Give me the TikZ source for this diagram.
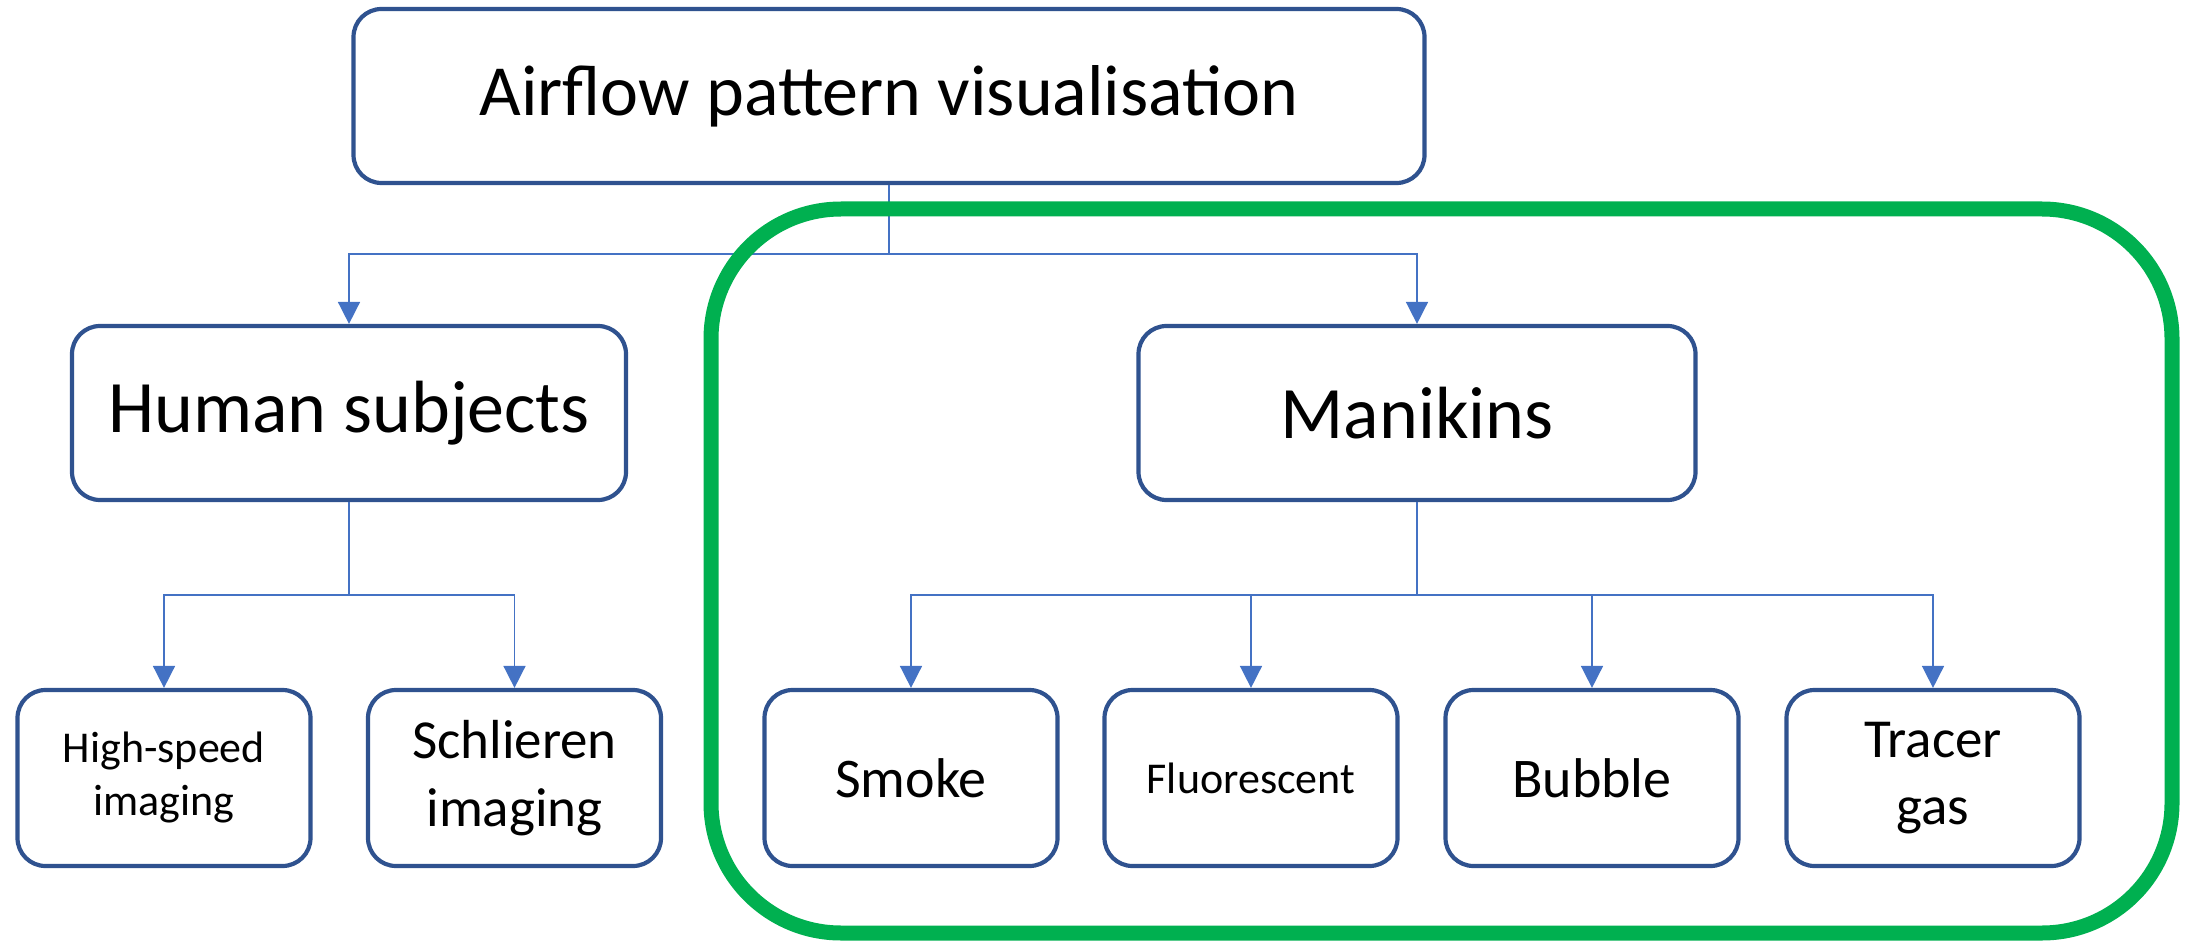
\documentclass[tikz,border=0pt]{standalone}
\usepackage{fontspec}
\setmainfont{Carlito}
\usetikzlibrary{arrows.meta}
\definecolor{boxblue}{HTML}{2F528F}
\definecolor{linkblue}{HTML}{4472C4}
\definecolor{framegreen}{HTML}{00B050}
\tikzset{
  box/.style={draw=boxblue, line width=4.2pt, rounded corners=28pt, fill=white,
    align=center, inner sep=0pt, text=black},
  leaf/.style={box, minimum width=293pt, minimum height=176pt},
  conn/.style={draw=linkblue, line width=1.6pt,
    -{Triangle[length=22pt,width=22pt]}}
}
\begin{document}
\begin{tikzpicture}[x=1pt,y=-1pt]
\useasboundingbox (0,0) rectangle (2185,941);
\coordinate (lvlA) at (0,254);
\coordinate (lvlB) at (0,595);

\node[box, minimum width=1071pt, minimum height=174pt, font=\fontsize{72}{86}\selectfont]
  (top) at (889,96) {Airflow pattern visualisation};
\node[box, minimum width=554pt, minimum height=174pt, font=\fontsize{74}{88}\selectfont]
  (human) at (349,413) {Human subjects};
\node[box, minimum width=557pt, minimum height=174pt, font=\fontsize{74}{88}\selectfont]
  (mani) at (1417,413) {Manikins};

\node[leaf, font=\fontsize{44}{53}\selectfont] (hs) at (164,778) {High-speed\\imaging};
\node[leaf, font=\fontsize{55}{68}\selectfont] (sch) at (514.5,778) {Schlieren\\imaging};
\node[leaf, font=\fontsize{56}{68}\selectfont] (smoke) at (911,778) {Smoke};
\node[leaf, font=\fontsize{44}{53}\selectfont] (fluo) at (1251,778) {Fluorescent};
\node[leaf, font=\fontsize{56}{68}\selectfont] (bub) at (1592,778) {Bubble};
\node[leaf, font=\fontsize{55}{67}\selectfont] (tra) at (1933,778) {Tracer\\gas};

\draw[conn] (top.south) -- (top.south |- lvlA) -| (human.north);
\draw[conn] (top.south) -- (top.south |- lvlA) -| (mani.north);

\draw[conn] (human.south) -- (human.south |- lvlB) -| (hs.north);
\draw[conn] (human.south) -- (human.south |- lvlB) -| (sch.north);

\draw[conn] (mani.south) -- (mani.south |- lvlB) -| (smoke.north);
\draw[conn] (mani.south) -- (mani.south |- lvlB) -| (fluo.north);
\draw[conn] (mani.south) -- (mani.south |- lvlB) -| (bub.north);
\draw[conn] (mani.south) -- (mani.south |- lvlB) -| (tra.north);

\draw[framegreen, line width=15pt, rounded corners=130pt] (711,209) rectangle (2172,933);
\end{tikzpicture}
\end{document}
